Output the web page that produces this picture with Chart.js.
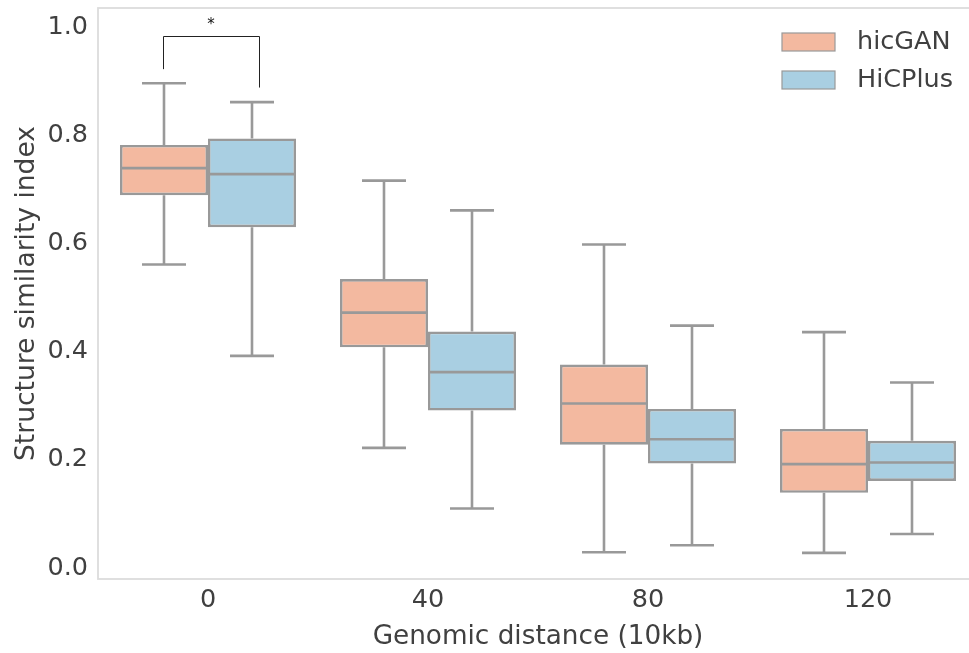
<!DOCTYPE html>
<html><head><meta charset="utf-8">
<script src="https://cdn.jsdelivr.net/npm/chart.js@4.4.1/dist/chart.umd.min.js"></script>
<style>html,body{margin:0;padding:0;background:#fff;overflow:hidden;}#wrap{width:980px;height:653px;position:relative;}</style>
</head><body><div id="wrap"><canvas id="c"></canvas></div>
<script>
const categories = ['0', '40', '80', '120'];
const seriesNames = ['hicGAN', 'HiCPlus'];
const hicGAN_low    = [0.561, 0.222, 0.029, 0.028];
const hicGAN_q1     = [0.689, 0.408, 0.228, 0.139];
const hicGAN_median = [0.739, 0.472, 0.304, 0.192];
const hicGAN_q3     = [0.782, 0.534, 0.376, 0.257];
const hicGAN_high   = [0.896, 0.716, 0.598, 0.436];
const hicPlus_low    = [0.392, 0.110, 0.042, 0.063];
const hicPlus_q1     = [0.630, 0.291, 0.193, 0.161];
const hicPlus_median = [0.728, 0.362, 0.238, 0.195];
const hicPlus_q3     = [0.794, 0.437, 0.294, 0.235];
const hicPlus_high   = [0.861, 0.661, 0.448, 0.343];
const yTicks = [0, 0.2, 0.4, 0.6, 0.8, 1.0];
const sigBracketX = [-0.203, 0.233];       // in category units
const sigBracketY = [0.983, 0.922, 0.888]; // top, left foot, right foot
const sigLabelPos = [0.014, 1.004];
const sigLabel = '*';

const TEXT = '#404040';
const EDGE = '#999999';
const FONT = 'DejaVu Sans';

function mkStats(low, q1, med, q3, high) {
  return low.map((v, i) => ({low: v, q1: q1[i], med: med[i], q3: q3[i], high: high[i]}));
}

const datasets = [
  {label: seriesNames[0], color: '#f3b9a0',
   stats: mkStats(hicGAN_low, hicGAN_q1, hicGAN_median, hicGAN_q3, hicGAN_high)},
  {label: seriesNames[1], color: '#a9cfe2',
   stats: mkStats(hicPlus_low, hicPlus_q1, hicPlus_median, hicPlus_q3, hicPlus_high)}
].map(d => ({
  label: d.label,
  data: d.stats.map(s => [s.q1, s.q3]),
  stats: d.stats,
  backgroundColor: d.color,
  borderColor: EDGE,
  borderWidth: 2.6,
  borderSkipped: false,
  categoryPercentage: 0.8,
  barPercentage: 1.0
}));

const boxPlugin = {
  id: 'boxextras',
  beforeDraw(chart) {
    const {ctx, chartArea: a} = chart;
    ctx.save();
    ctx.fillStyle = '#ffffff';
    ctx.fillRect(0, 0, chart.width, chart.height);
    ctx.strokeStyle = '#dcdcdc';
    ctx.lineWidth = 1.8;
    ctx.strokeRect(a.left, a.top, a.right - a.left, a.bottom - a.top);
    ctx.restore();
  },
  afterDatasetsDraw(chart) {
    const ctx = chart.ctx, ys = chart.scales.y, xs = chart.scales.x;
    ctx.save();
    ctx.strokeStyle = EDGE;
    ctx.lineWidth = 2.6;
    chart.data.datasets.forEach((ds, di) => {
      const meta = chart.getDatasetMeta(di);
      meta.data.forEach((bar, i) => {
        const s = ds.stats[i];
        const cx = bar.x, w = bar.width;
        const pLow = ys.getPixelForValue(s.low), pQ1 = ys.getPixelForValue(s.q1);
        const pMed = ys.getPixelForValue(s.med), pQ3 = ys.getPixelForValue(s.q3);
        const pHigh = ys.getPixelForValue(s.high);
        ctx.beginPath();
        ctx.moveTo(cx, pQ3); ctx.lineTo(cx, pHigh);
        ctx.moveTo(cx - w / 4, pHigh); ctx.lineTo(cx + w / 4, pHigh);
        ctx.moveTo(cx, pQ1); ctx.lineTo(cx, pLow);
        ctx.moveTo(cx - w / 4, pLow); ctx.lineTo(cx + w / 4, pLow);
        ctx.moveTo(cx - w / 2 + 1, pMed); ctx.lineTo(cx + w / 2 - 1, pMed);
        ctx.stroke();
      });
    });
    // significance bracket
    const xl = xs.getPixelForValue(sigBracketX[0]), xr = xs.getPixelForValue(sigBracketX[1]);
    const yt = ys.getPixelForValue(sigBracketY[0]);
    ctx.strokeStyle = '#222222';
    ctx.lineWidth = 1;
    ctx.beginPath();
    ctx.moveTo(Math.round(xl) + 0.5, ys.getPixelForValue(sigBracketY[1]));
    ctx.lineTo(Math.round(xl) + 0.5, Math.round(yt) + 0.5);
    ctx.lineTo(Math.round(xr) + 0.5, Math.round(yt) + 0.5);
    ctx.lineTo(Math.round(xr) + 0.5, ys.getPixelForValue(sigBracketY[2]));
    ctx.stroke();
    ctx.fillStyle = '#111111';
    ctx.font = '15px "' + FONT + '"';
    ctx.textAlign = 'center';
    ctx.textBaseline = 'middle';
    ctx.fillText(sigLabel, xs.getPixelForValue(sigLabelPos[0]), ys.getPixelForValue(sigLabelPos[1]));
    ctx.restore();
  },
  afterDraw(chart) {
    const {ctx, chartArea: a} = chart;
    ctx.save();
    ctx.font = '25.5px "' + FONT + '"';
    ctx.textBaseline = 'middle';
    ctx.textAlign = 'left';
    chart.data.datasets.forEach((ds, i) => {
      const px = a.right - 196, py = a.top + 25 + i * 38;
      ctx.fillStyle = ds.backgroundColor;
      ctx.fillRect(px, py, 53, 18);
      ctx.strokeStyle = EDGE;
      ctx.lineWidth = 1.2;
      ctx.strokeRect(px, py, 53, 18);
      ctx.fillStyle = TEXT;
      ctx.fillText(ds.label, a.right - 121, py + 9);
    });
    ctx.restore();
  }
};

Chart.defaults.font.family = FONT;
new Chart(document.getElementById('c'), {
  type: 'bar',
  data: {labels: categories, datasets},
  options: {
    responsive: true,
    maintainAspectRatio: false,
    animation: false,
    layout: {padding: {top: 8, right: 2, left: 0, bottom: 0}},
    plugins: {legend: {display: false}, tooltip: {enabled: false}},
    scales: {
      x: {
        grid: {display: false, drawTicks: false},
        border: {display: false},
        ticks: {color: TEXT, font: {size: 25.5}, padding: 6},
        title: {display: true, text: 'Genomic distance (10kb)', color: TEXT,
                font: {size: 26.3}, padding: {top: 0, bottom: 0}},
        afterFit(scale) { scale.height = 74; scale.paddingLeft = 0; scale.paddingRight = 0; }
      },
      y: {
        min: -0.0203, max: 1.035,
        grid: {display: false, drawTicks: false},
        border: {display: false},
        afterBuildTicks(scale) { scale.ticks = yTicks.map(v => ({value: v})); },
        ticks: {color: TEXT, font: {size: 25.5}, padding: 10,
                callback: v => Number(v).toFixed(1)},
        title: {display: true, text: 'Structure similarity index', color: TEXT,
                font: {size: 26.5}, padding: {top: 11, bottom: 0}},
        afterFit(scale) { scale.width = 98; scale.paddingTop = 0; scale.paddingBottom = 0; }
      }
    }
  },
  plugins: [boxPlugin]
});
</script>
</body></html>
